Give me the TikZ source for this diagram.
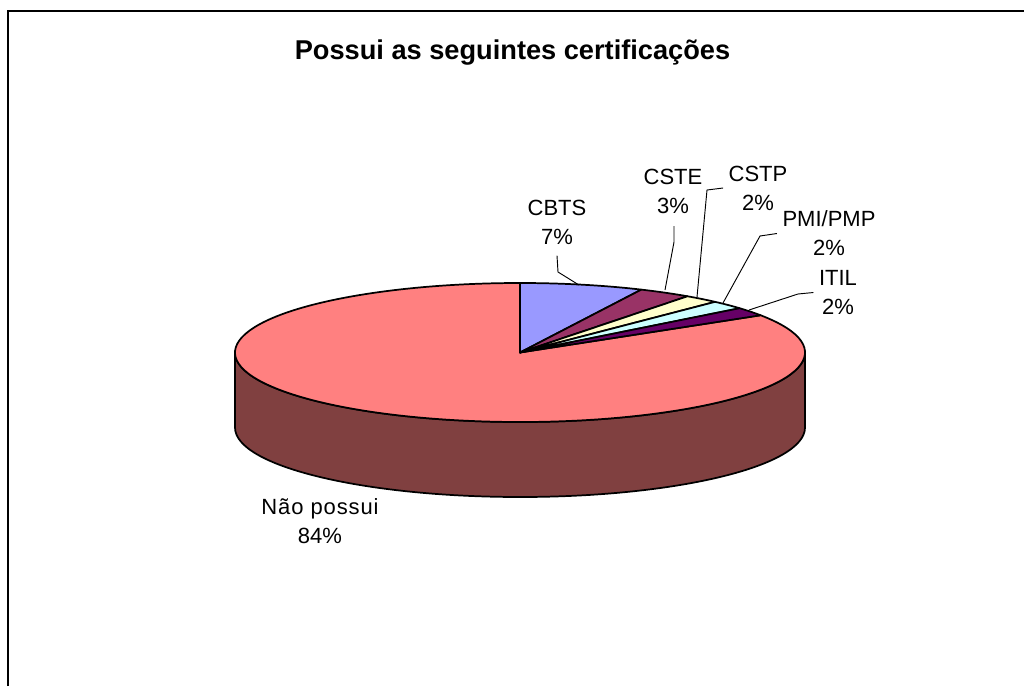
\documentclass[tikz,border=0pt]{standalone}
\usepackage{fontspec}
\setmainfont{Liberation Sans}
\usetikzlibrary{calc}
\definecolor{cbtsC}{HTML}{9999FF}
\definecolor{csteC}{HTML}{993366}
\definecolor{cstpC}{HTML}{FFFFCC}
\definecolor{pmiC}{HTML}{CCFFFF}
\definecolor{itilC}{HTML}{660066}
\definecolor{naoC}{HTML}{FF8080}
\definecolor{naoSideC}{HTML}{804040}
\begin{document}
\begin{tikzpicture}[x=0.75pt,y=0.75pt,
  lbl/.style={font=\fontsize{16.5}{21.75}\selectfont, align=center, inner sep=0pt},
  slice/.style={draw=black, line width=1.3pt, line join=round},
  leader/.style={draw=black, line width=0.7pt},
  frame/.style={draw=black, line width=1.5pt},
  pie/.style={x radius=285, y radius=69.5}
]
\useasboundingbox (0,0) rectangle (1024,-686);
\fill[white] (0,0) rectangle (1024,-686);
\draw[frame] (8,-686) -- (8,-11) -- (1024,-11);

\node[font=\fontsize{20.4}{24}\selectfont\bfseries, anchor=base, inner sep=0pt] (title) at (512.5,-59.3) {Possui as seguintes certificações};

\coordinate (c) at (520,-352.5);
% front side
\filldraw[slice, fill=naoSideC] ($(c)+(180:285 and 69.5)$) arc[start angle=180, end angle=360, pie] -- ++(0,-75) arc[start angle=360, end angle=180, pie] -- cycle;
% top slices
\filldraw[slice, fill=naoC] (c) -- ($(c)+(32.4:285 and 69.5)$) arc[start angle=32.4, end angle=-270, pie] -- cycle;
\filldraw[slice, fill=cbtsC] (c) -- ($(c)+(90:285 and 69.5)$) arc[start angle=90, end angle=64.8, pie] -- cycle;
\filldraw[slice, fill=csteC] (c) -- ($(c)+(64.8:285 and 69.5)$) arc[start angle=64.8, end angle=54, pie] -- cycle;
\filldraw[slice, fill=cstpC] (c) -- ($(c)+(54:285 and 69.5)$) arc[start angle=54, end angle=46.8, pie] -- cycle;
\filldraw[slice, fill=pmiC] (c) -- ($(c)+(46.8:285 and 69.5)$) arc[start angle=46.8, end angle=39.6, pie] -- cycle;
\filldraw[slice, fill=itilC] (c) -- ($(c)+(39.6:285 and 69.5)$) arc[start angle=39.6, end angle=32.4, pie] -- cycle;

% labels
\node[lbl] (cbts) at (557,-222.5) {CBTS\\7\%};
\node[lbl] (cste) at (673,-191.5) {CSTE\\3\%};
\node[lbl] (cstp) at (758,-188) {CSTP\\2\%};
\node[lbl] (pmi) at (829,-233.5) {PMI/PMP\\2\%};
\node[lbl] (itil) at (838,-292.5) {ITIL\\2\%};
\node[lbl] (nao) at (320,-521) {\addfontfeature{LetterSpace=4}Não possui\\84\%};

% leader end points
\coordinate (cbtsK) at (558,-272);
\coordinate (cbtsE) at (579,-285);
\coordinate (csteS) at (674,-226);
\coordinate (csteK) at (674,-242);
\coordinate (csteE) at (665,-290);
\coordinate (cstpK) at (707,-190);
\coordinate (cstpE) at (697,-297);
\coordinate (pmiK) at (760,-236);
\coordinate (pmiE) at (723,-303);
\coordinate (itilK) at (798,-294);
\coordinate (itilE) at (749,-310);

\draw[leader] ([yshift=-8]cbts.south) -- (cbtsK) -- (cbtsE);
\draw[leader] (csteS) -- (csteK) -- (csteE);
\draw[leader] ([xshift=-4]cstp.west) -- (cstpK) -- (cstpE);
\draw[leader] ([xshift=-4]pmi.west) -- (pmiK) -- (pmiE);
\draw[leader] ([xshift=-4]itil.west) -- (itilK) -- (itilE);
\end{tikzpicture}
\end{document}
